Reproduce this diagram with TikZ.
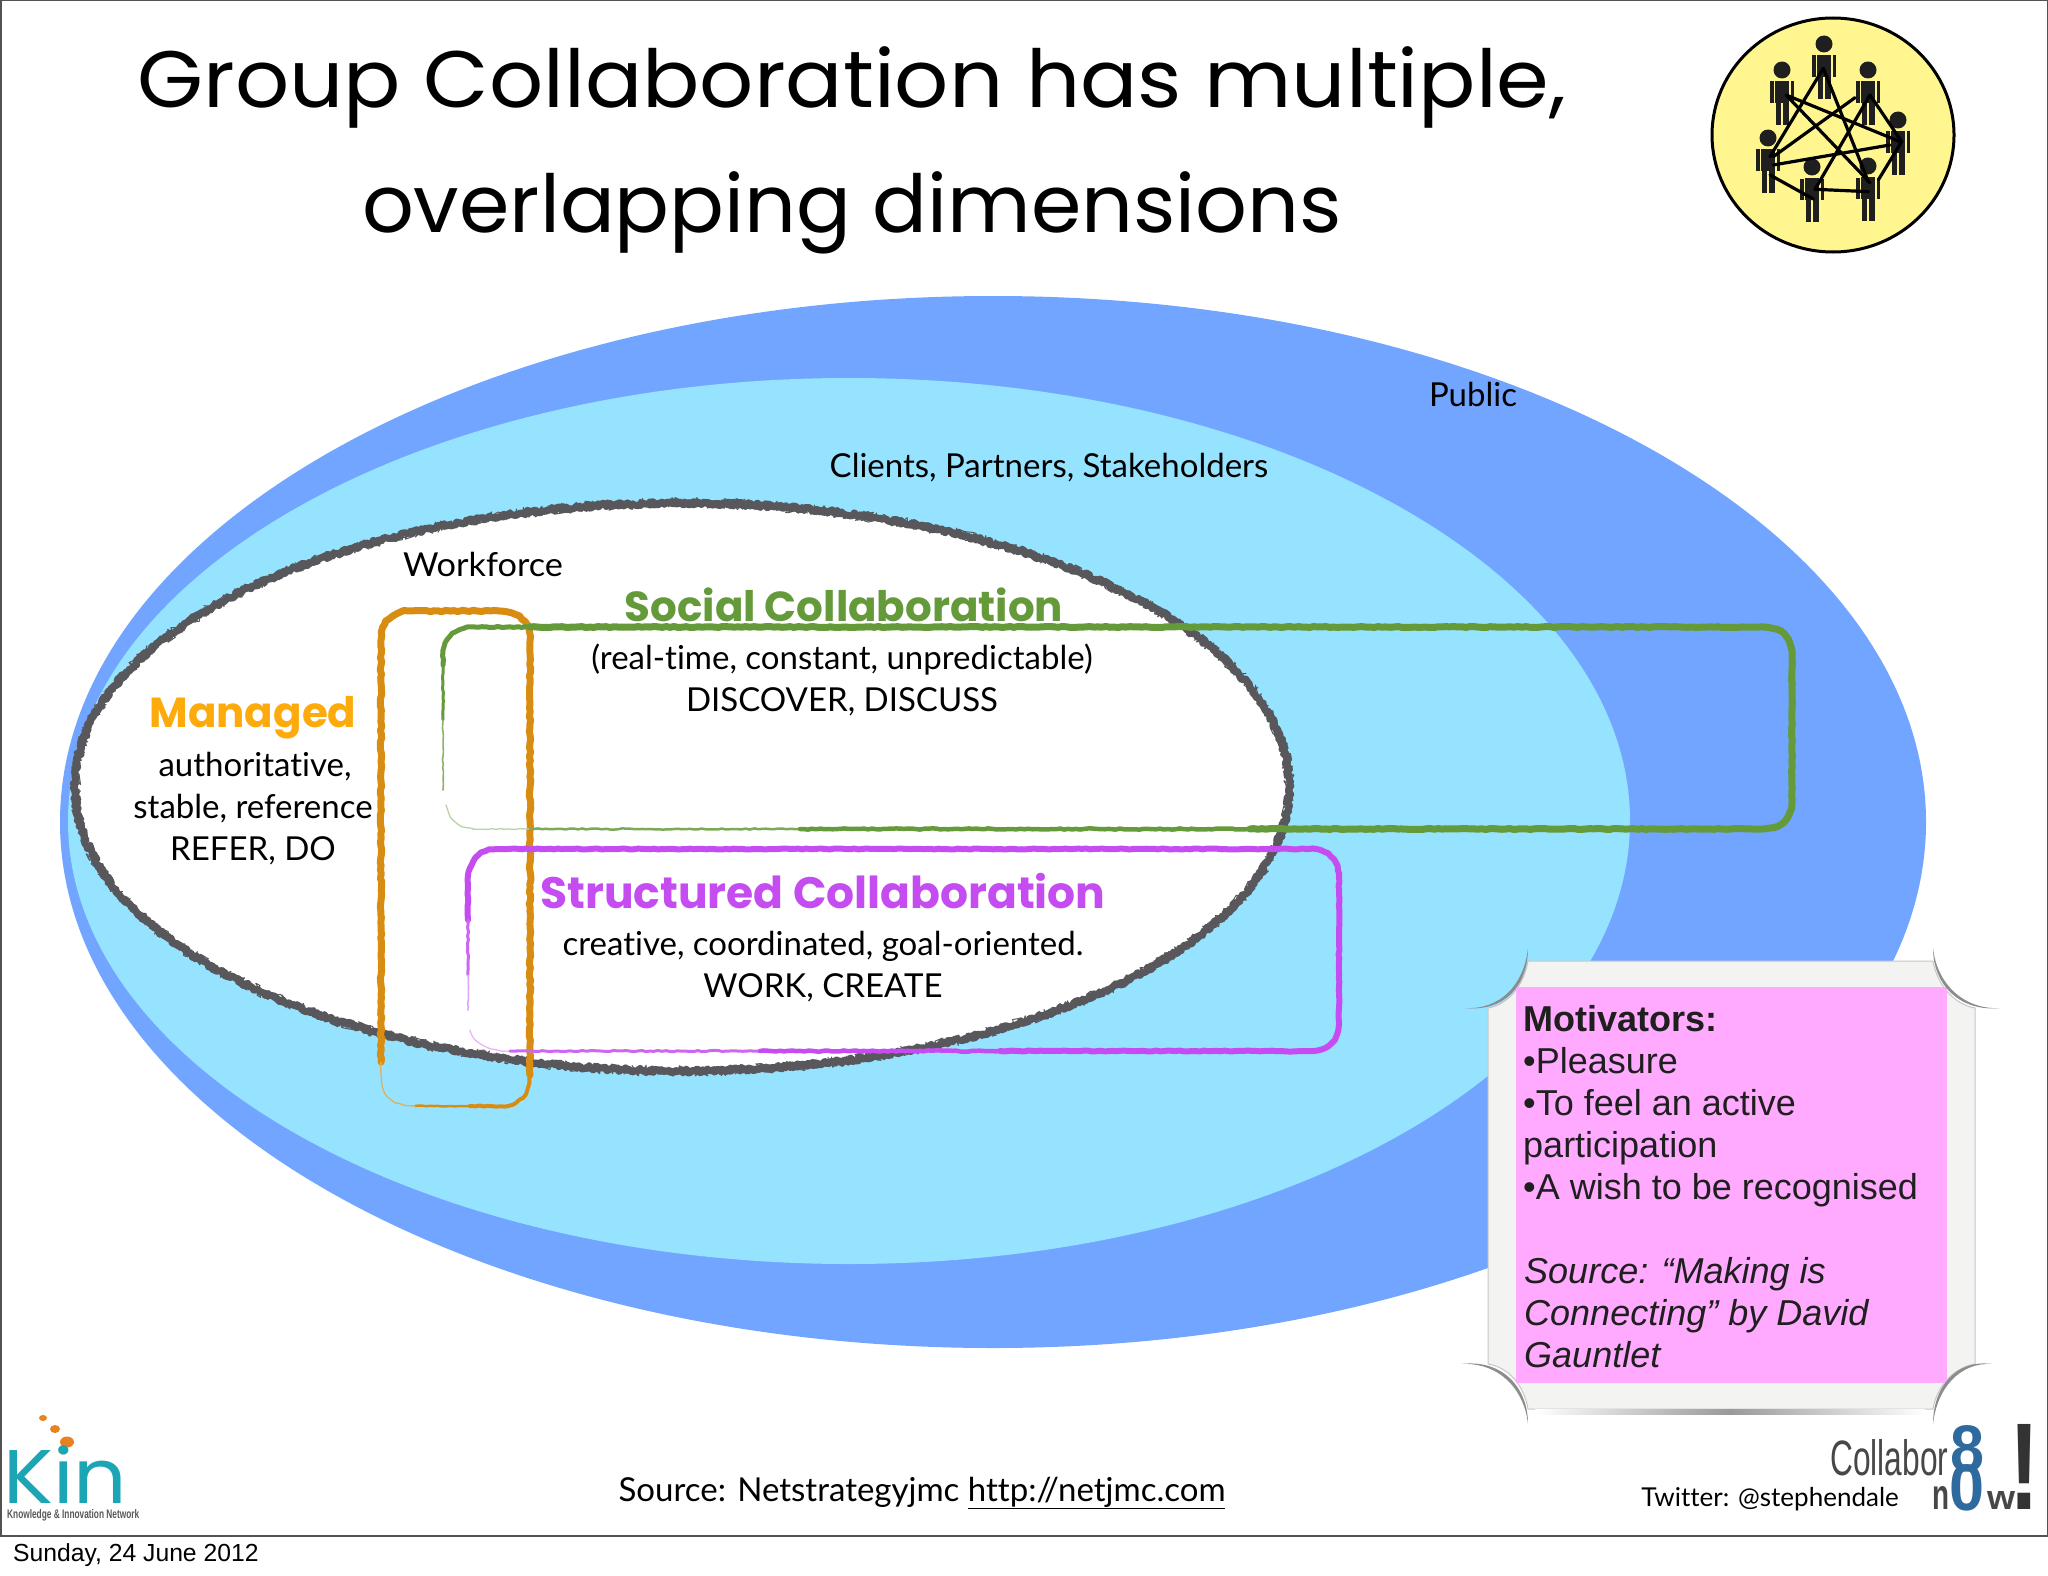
\documentclass[tikz,border=0pt]{standalone}
\usepackage{fontspec}
\usepackage{graphicx}
\setmainfont{Lato}[Ligatures=NoCommon]
\newfontfamily\titlefont{Poppins}
\newfontfamily\headfont{Poppins}
\newfontfamily\arialfont{Liberation Sans}
\usetikzlibrary{decorations.pathmorphing,shadings}
\definecolor{publicblue}{HTML}{72A5FF}
\definecolor{clientblue}{HTML}{96E3FF}
\definecolor{wfgray}{HTML}{58585C}
\definecolor{grn}{HTML}{649A3A}
\definecolor{org}{HTML}{D98C12}
\definecolor{orglabel}{HTML}{FDAB0C}
\definecolor{pur}{HTML}{C44CF0}
\definecolor{pinkbox}{HTML}{FFAAFF}
\definecolor{framec}{HTML}{F3F3F1}
\definecolor{iconyellow}{HTML}{FFF68F}
\definecolor{kinteal}{HTML}{1BA5B5}
\definecolor{kinorange}{HTML}{E8811F}
\definecolor{logoblue}{HTML}{2F6A9F}
\tikzset{
  lbl/.style={inner sep=0pt,text=black,font=\fontsize{33}{33}\selectfont,anchor=center},
  titlelbl/.style={inner sep=0pt,font=\titlefont\fontsize{80}{80}\selectfont,anchor=base},
  headlbl/.style={inner sep=0pt,font=\headfont\bfseries\fontsize{42}{42}\selectfont,anchor=center},
  boxlbl/.style={inner sep=0pt,anchor=base west,text=black!88,font=\arialfont\fontsize{36}{42}\selectfont},
  boxital/.style={boxlbl,font=\arialfont\itshape\fontsize{36}{42}\selectfont},
  rough/.style={decorate,decoration={random steps,segment length=4pt,amplitude=#1},line cap=round,line join=round},
  rough/.default=0.8pt,
  personpart/.style={fill=black!88,draw=none},
  link/.style={draw=black,line width=3.2pt,line cap=round},
  curl/.style={fill=black!45,draw=none},
  logotext/.style={inner sep=0pt,text=black!72,font=\arialfont\bfseries},
}
\newcommand{\person}[3]{%
  \begin{scope}[shift={(#2,#3)}]
  \fill[personpart] (0,0) circle (8.5pt);
  \coordinate (#1) at (0,0);
  \fill[personpart] (-7,11) rectangle (7,33);
  \fill[personpart] (-6.5,33) rectangle (-0.8,55);
  \fill[personpart] (0.8,33) rectangle (6.5,55);
  \fill[personpart] (-12,11.5) rectangle (-8.5,33);
  \fill[personpart] (8.5,11.5) rectangle (12,33);
  \end{scope}}
\begin{document}
\begin{tikzpicture}[x=1pt,y=-1pt]
\pgfmathsetseed{7}
\useasboundingbox (0,0) rectangle (2048,1576);
\fill[white] (0,0) rectangle (2048,1576);
% ellipses
\fill[publicblue] (993,822) ellipse [x radius=933,y radius=526];
\fill[clientblue] (849,821) ellipse [x radius=781,y radius=443];
\fill[white] (682,787) ellipse [x radius=607,y radius=284];
\draw[wfgray,line width=7pt,rough=2pt,decoration={segment length=1.5pt}] (682,787) ellipse [x radius=607,y radius=284];
\draw[wfgray,line width=1pt,rough=5.5pt,decoration={segment length=1.3pt}] (682,787) ellipse [x radius=607,y radius=284];
% orange
\draw[org,line width=7pt,rough] (381,1062) -- (381,640) .. controls (381,622) and (392,611) .. (410,611) -- (500,611) .. controls (518,611) and (530,622) .. (530,640) -- (530,1075);
\draw[org,line width=4pt,rough] (530,1075) .. controls (530,1095) and (518,1106) .. (500,1106) -- (470,1106);
\draw[org,line width=2.5pt,rough=0.5pt] (470,1106) -- (415,1106);
\draw[org!70,line width=1.3pt,rough=0.5pt] (381,1062) -- (381,1075) .. controls (381,1095) and (392,1106) .. (415,1106);
% green
\draw[grn,line width=7pt,rough=0.5pt] (1250,829) -- (1762,829) .. controls (1782,829) and (1792,818) .. (1792,800) -- (1792,656) .. controls (1792,638) and (1782,627) .. (1762,627) -- (530,627);
\draw[grn,line width=5pt,rough=0.5pt] (530,627) -- (475,627) .. controls (455,627) and (443,638) .. (443,656) -- (443,665);
\draw[grn,line width=3pt,rough=0.5pt] (443,665) -- (443,720);
\draw[grn!75,line width=1.6pt,rough=0.6pt] (443,720) -- (443,790);
\draw[grn!45,line width=1.3pt,rough=0.5pt] (446,805) .. controls (450,822) and (460,829) .. (480,829) -- (530,829);
\draw[grn!85,line width=2.5pt,rough=0.6pt] (530,829) -- (800,829);
\draw[grn,line width=4.5pt,rough=0.6pt] (800,829) -- (1250,829);
% purple
\draw[pur,line width=6pt,rough=0.5pt] (1000,1051) -- (1310,1051) .. controls (1328,1051) and (1339,1040) .. (1339,1022) -- (1339,878) .. controls (1339,860) and (1328,849) .. (1310,849) -- (497,849) .. controls (480,849) and (470,860) .. (468,878) -- (468,920);
\draw[pur!85,line width=3pt,rough=0.6pt] (468,920) -- (468,975);
\draw[pur!50,line width=1.6pt,rough=0.6pt] (468,975) -- (468,1010);
\draw[pur!40,line width=1.3pt,rough=0.5pt] (470,1030) .. controls (476,1045) and (488,1051) .. (510,1051);
\draw[pur!85,line width=3pt,rough=0.6pt] (510,1051) -- (760,1051);
\draw[pur,line width=4.5pt,rough=0.6pt] (760,1051) -- (1000,1051);
% title
\node[titlelbl] (title1) at (852,108) {\scalebox{1.06}[1]{Group Collaboration has multiple,}};
\node[titlelbl] (title2) at (852,232) {\scalebox{1.014}[1]{overlapping dimensions}};
% icon
\fill[iconyellow] (1833,135) ellipse [x radius=121,y radius=117];
\draw[black,line width=3pt] (1833,135) ellipse [x radius=121,y radius=117];
\person{p1}{1824}{44}
\person{p2}{1782}{70}
\person{p3}{1868}{70}
\person{p4}{1898}{120}
\person{p5}{1768}{138}
\person{p6}{1812}{167}
\person{p7}{1868}{166}
\begin{scope}[shift={(1650,0)},x=0.3333pt,y=-0.3333pt]
\draw[link] (520,205) -- (360,470);
\draw[link] (520,205) -- (655,545);
\draw[link] (408,285) -- (660,548);
\draw[link] (408,285) -- (750,425);
\draw[link] (615,293) -- (370,470);
\draw[link] (660,285) -- (495,568);
\draw[link] (660,285) -- (755,425) -- (685,540);
\draw[link] (370,495) -- (720,435);
\draw[link] (495,568) -- (655,575);
\draw[link] (360,525) -- (490,597);
\end{scope}
% labels
\node[lbl] (public) at (1473,394) {Public};
\node[lbl] (clients) at (1049,468) {Clients, Partners, Stakeholders};
\node[lbl] (workforce) at (483,564) {\scalebox{1.04}[1]{Workforce}};
\node[headlbl,text=grn] (social) at (844,605) {Social Collaboration};
\node[lbl] (social1) at (842,660) {(real-time, constant, unpredictable)};
\node[lbl] (social2) at (842,702) {DISCOVER, DISCUSS};
\node[headlbl,text=orglabel] (managed) at (253,718) {Managed};
\node[lbl] (man1) at (255,767) {authoritative,};
\node[lbl] (man2) at (253,809) {stable, reference};
\node[lbl] (man3) at (253,851) {REFER, DO};
\node[headlbl,text=pur,font=\headfont\bfseries\fontsize{44}{44}\selectfont] (struct) at (823,891) {Structured Collaboration};
\node[lbl] (struct1) at (823,946) {creative, coordinated, goal-oriented.};
\node[lbl] (struct2) at (823,988) {WORK, CREATE};
% motivators
\fill[framec,draw=black!22,line width=1pt] (1528,961) -- (1933,961) .. controls (1937,985) and (1955,1005) .. (1975,1008) -- (1975,1364) .. controls (1955,1367) and (1937,1385) .. (1933,1409) -- (1528,1409) .. controls (1524,1385) and (1508,1367) .. (1488,1364) -- (1488,1008) .. controls (1508,1005) and (1524,985) .. (1528,961) -- cycle;
\shade[left color=white,right color=white,middle color=black!40] (1535,1409) rectangle (1925,1414);
\fill[pinkbox] (1516,987) rectangle (1947,1383);
\fill[curl] (1465,1008) .. controls (1500,1010) and (1524,985) .. (1528,948) .. controls (1528,985) and (1505,1012) .. (1465,1008) -- cycle;
\fill[curl] (2000,1008) .. controls (1965,1010) and (1937,985) .. (1933,948) .. controls (1933,985) and (1960,1012) .. (2000,1008) -- cycle;
\fill[curl] (1461,1364) .. controls (1498,1362) and (1524,1388) .. (1528,1424) .. controls (1528,1388) and (1503,1359) .. (1461,1364) -- cycle;
\fill[curl] (1992,1364) .. controls (1960,1362) and (1937,1388) .. (1933,1424) .. controls (1933,1388) and (1955,1359) .. (1992,1364) -- cycle;
\node[boxlbl,font=\arialfont\bfseries\fontsize{36}{42}\selectfont] (m0) at (1523,1031) {Motivators:};
\node[boxlbl] (m1) at (1523,1073) {•Pleasure};
\node[boxlbl] (m2) at (1523,1115) {•To feel an active};
\node[boxlbl] (m3) at (1523,1157) {participation};
\node[boxlbl] (m4) at (1523,1199) {•A wish to be recognised};
\node[boxital] (m5) at (1524,1283) {Source: “Making is};
\node[boxital] (m6) at (1524,1325) {Connecting” by David};
\node[boxital] (m7) at (1524,1367) {Gauntlet};
% footer
\node[lbl] (source) at (922,1493) {Source: Netstrategyjmc \underline{http://netjmc.com}};
\node[lbl,font=\fontsize{26}{26}\selectfont] (twitter) at (1770,1499) {Twitter: @stephendale};
% kin logo
\fill[kinorange] (43,1418) ellipse [x radius=4pt,y radius=3pt];
\fill[kinorange] (55,1429) ellipse [x radius=5pt,y radius=4pt];
\fill[kinorange] (67,1442) ellipse [x radius=7pt,y radius=5.5pt];
\node[inner sep=0pt,anchor=west,text=kinteal,font=\headfont\fontsize{76}{76}\selectfont] (kin) at (3,1475) {\scalebox{1.1}[1]{Kin}};
\node[inner sep=0pt,anchor=west,text=black!65,font=\arialfont\bfseries\fontsize{11}{11}\selectfont] (kinsub) at (7,1515) {\resizebox{132pt}{9pt}{Knowledge \& Innovation Network}};
% collaborate logo
\node[logotext,anchor=west,font=\arialfont] (collab) at (1830,1458) {\resizebox{118pt}{36pt}{Collabor}};
\node[logotext,anchor=north,text=logoblue] (eight) at (1967,1425) {\resizebox{34pt}{46pt}{8}};
\node[logotext,anchor=south,text=logoblue] (zero) at (1967,1511) {\resizebox{35pt}{46pt}{0}};
\node[logotext,anchor=south west] (ncol) at (1932,1510) {\resizebox{17pt}{23pt}{n}};
\node[logotext,anchor=south west] (wcol) at (1987,1510) {\resizebox{28pt}{18pt}{w}};
\node[logotext,anchor=south,text=black!80] (bang) at (2024,1510) {\resizebox{30pt}{85pt}{!}};
% slide frame
\draw[black!68,line width=2pt] (0.5,1536) -- (0.5,0.5) -- (2047.5,0.5) -- (2047.5,1536) -- cycle;
\node[inner sep=0pt,anchor=west,text=black,font=\arialfont\fontsize{24.7}{24.7}\selectfont] (date) at (13,1555) {Sunday, 24 June 2012};
\end{tikzpicture}
\end{document}
